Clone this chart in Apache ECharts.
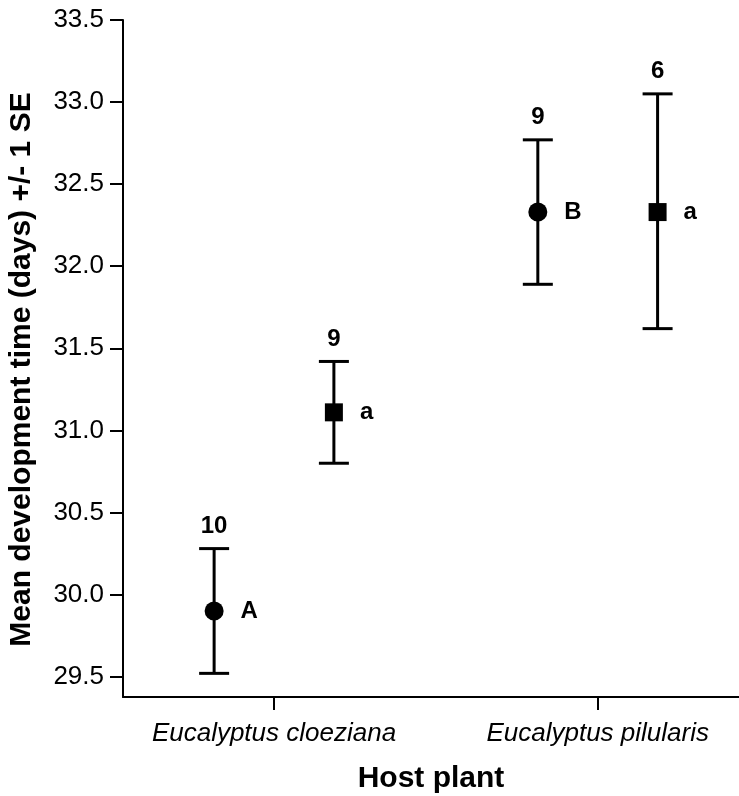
<!DOCTYPE html>
<html>
<head>
<meta charset="utf-8">
<script src="https://cdn.jsdelivr.net/npm/echarts@6/dist/echarts.min.js"></script>
<style>
  html, body { margin: 0; padding: 0; background: #fff; }
  #chart { width: 739px; height: 796px; }
</style>
</head>
<body>
<div id="chart"></div>
<script>
// Host plant categories (x positions 1 and 2 on the value axis)
const hosts = ['Eucalyptus cloeziana', 'Eucalyptus pilularis'];

// Circle group (upper-case letters)
const circleMean = [29.90, 32.33];
const circleUpper = [30.28, 32.77];
const circleLower = [29.52, 31.89];
const circleN = [10, 9];
const circleLetter = ['A', 'B'];

// Square group (lower-case letters)
const squareMean = [31.11, 32.33];
const squareUpper = [31.42, 33.05];
const squareLower = [30.80, 31.62];
const squareN = [9, 6];
const squareLetter = ['a', 'a'];

// Y tick labels
const yTicks = [29.5, 30.0, 30.5, 31.0, 31.5, 32.0, 32.5, 33.0, 33.5];

const FONT = "'Liberation Sans', Arial, Helvetica, sans-serif";
const DODGE = 0.185;   // horizontal shift of each group from the category centre

const xPos = (i, side) => (i + 1) + side * DODGE;

const circlePts = circleMean.map((m, i) => ({ value: [xPos(i, -1), m], letter: circleLetter[i] }));
const squarePts = squareMean.map((m, i) => ({ value: [xPos(i, 1), m], letter: squareLetter[i] }));
const circleBars = circleMean.map((m, i) => [xPos(i, -1), circleLower[i], circleUpper[i], circleN[i]]);
const squareBars = squareMean.map((m, i) => [xPos(i, 1), squareLower[i], squareUpper[i], squareN[i]]);

function errorBar(params, api) {
  const x = api.value(0), lo = api.value(1), hi = api.value(2), n = api.value(3);
  const pLo = api.coord([x, lo]);
  const pHi = api.coord([x, hi]);
  const half = 15;
  const st = { stroke: '#000', lineWidth: 3 };
  return {
    type: 'group',
    children: [
      { type: 'line', shape: { x1: pLo[0], y1: pLo[1], x2: pHi[0], y2: pHi[1] }, style: st },
      { type: 'line', shape: { x1: pLo[0] - half, y1: pLo[1], x2: pLo[0] + half, y2: pLo[1] }, style: st },
      { type: 'line', shape: { x1: pHi[0] - half, y1: pHi[1], x2: pHi[0] + half, y2: pHi[1] }, style: st },
      { type: 'text', x: pHi[0], y: pHi[1] - 10,
        style: { text: String(n), align: 'center', verticalAlign: 'bottom',
                 font: 'bold 24px ' + FONT, fill: '#000' } }
    ]
  };
}

const letterLabel = {
  show: true, position: 'right', distance: 17,
  formatter: p => p.data.letter,
  color: '#000', fontFamily: FONT, fontWeight: 'bold', fontSize: 24
};

const chart = echarts.init(document.getElementById('chart'));
chart.setOption({
  animation: false,
  backgroundColor: '#fff',
  grid: { left: 123, right: 0, top: 20, bottom: 99, containLabel: false, outerBoundsMode: 'none' },
  xAxis: {
    type: 'value', min: 0.5335, max: 2.4365,
    splitLine: { show: false },
    axisLine: { show: true, onZero: false, lineStyle: { color: '#000', width: 2 } },
    axisTick: { show: true, length: 13, customValues: [1, 2], lineStyle: { color: '#000', width: 2 } },
    axisLabel: {
      customValues: [1, 2], margin: 24,
      formatter: v => hosts[Math.round(v) - 1],
      color: '#000', fontFamily: FONT, fontStyle: 'italic', fontSize: 26
    },
    name: 'Host plant', nameLocation: 'middle', nameGap: 67,
    nameTextStyle: { color: '#000', fontFamily: FONT, fontWeight: 'bold', fontSize: 30 }
  },
  yAxis: {
    type: 'value', min: 29.376, max: 33.5,
    splitLine: { show: false },
    axisLine: { show: true, onZero: false, lineStyle: { color: '#000', width: 2 } },
    axisTick: { show: true, length: 13, customValues: yTicks, lineStyle: { color: '#000', width: 2 } },
    axisLabel: {
      customValues: yTicks, margin: 19,
      formatter: v => v.toFixed(1),
      color: '#000', fontFamily: FONT, fontSize: 26
    },
    name: 'Mean development time (days) +/- 1 SE', nameLocation: 'middle', nameGap: 86,
    nameTextStyle: { color: '#000', fontFamily: FONT, fontWeight: 'bold', fontSize: 30,
                     padding: [0, 22, 0, 0] }
  },
  series: [
    { type: 'custom', renderItem: errorBar, data: circleBars, encode: { x: 0, y: [1, 2] }, z: 2 },
    { type: 'custom', renderItem: errorBar, data: squareBars, encode: { x: 0, y: [1, 2] }, z: 2 },
    { type: 'scatter', symbol: 'circle', symbolSize: 19, data: circlePts, z: 3,
      itemStyle: { color: '#000', opacity: 1 }, label: letterLabel },
    { type: 'scatter', symbol: 'rect', symbolSize: 18, data: squarePts, z: 3,
      itemStyle: { color: '#000', opacity: 1 }, label: letterLabel }
  ]
});
</script>
</body>
</html>
